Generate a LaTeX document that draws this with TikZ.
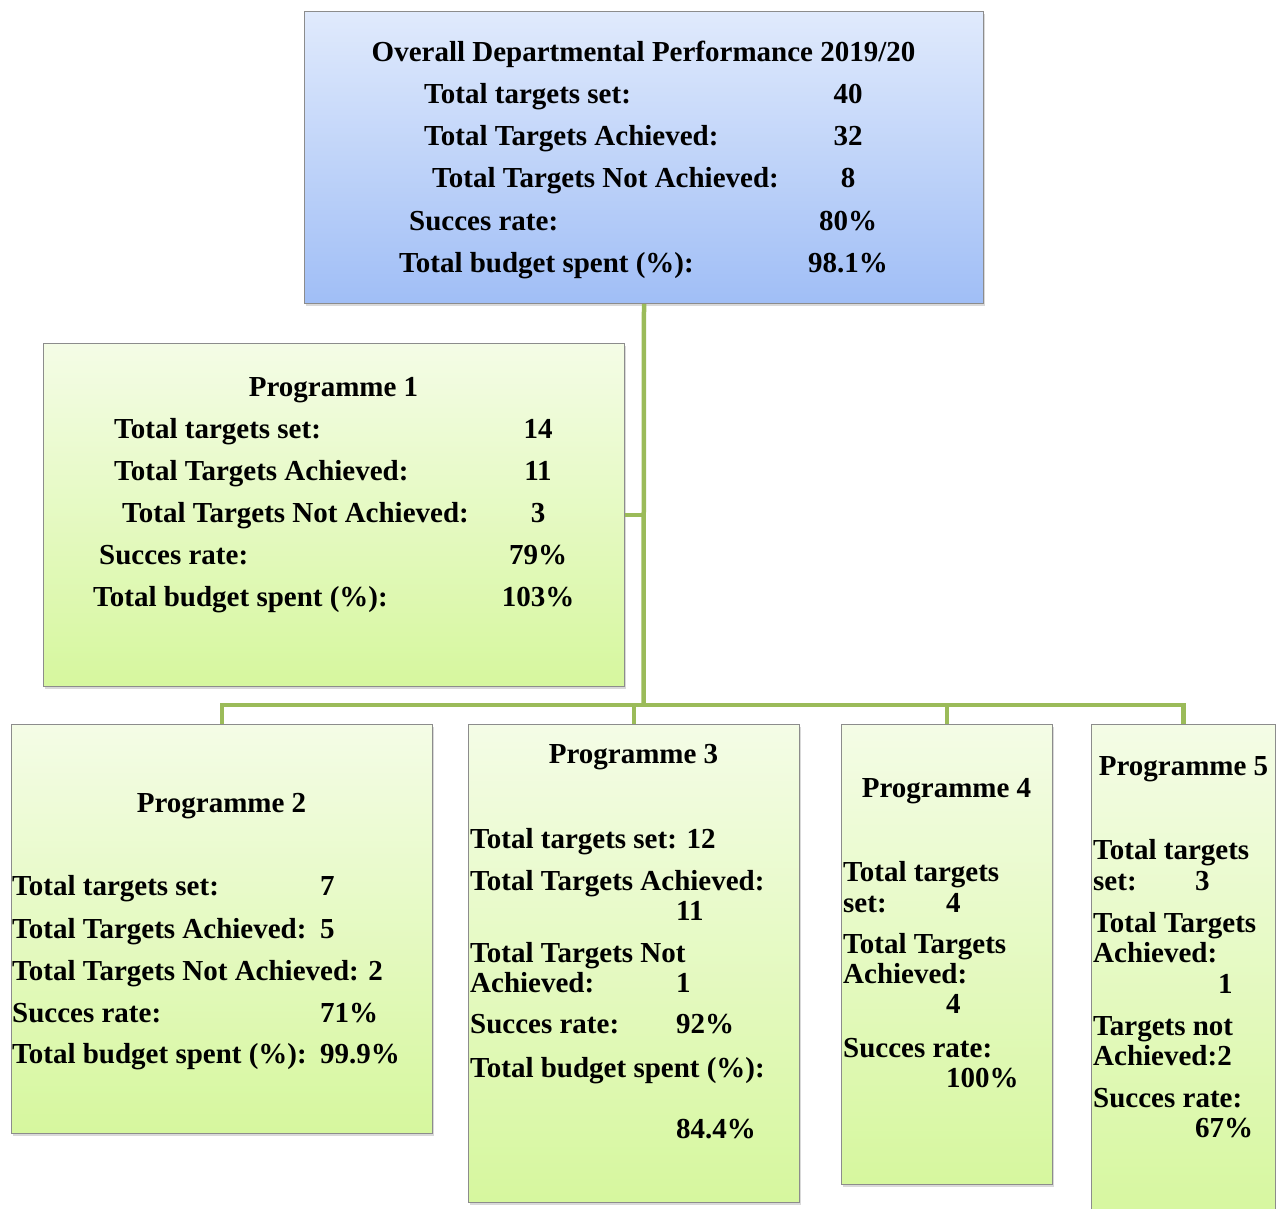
\documentclass[tikz,border=0pt]{standalone}
\usepackage{fontspec}
\setmainfont{Liberation Serif}
\usepackage{xcolor}
\usepackage{tikz}
\usetikzlibrary{positioning, shadows}

\definecolor{linkgreen}{RGB}{155,187,89}
\definecolor{boxgray}{RGB}{140,140,140}
\definecolor{bluetop}{RGB}{224,234,252}
\definecolor{bluebot}{RGB}{160,190,246}
\definecolor{greentop}{RGB}{244,252,230}
\definecolor{greenbot}{RGB}{214,247,158}

\begin{document}
\begin{tikzpicture}[
    x=1pt, y=-1pt,
    panel/.style={draw=boxgray, line width=1pt, anchor=north west, inner sep=0pt,
        drop shadow={shadow xshift=1.5pt, shadow yshift=-2.5pt, opacity=0.3}},
    bluepanel/.style={panel, top color=bluetop, bottom color=bluebot},
    greenpanel/.style={panel, top color=greentop, bottom color=greenbot},
    txt/.style={anchor=base west, inner sep=0pt, font=\bfseries\fontsize{29}{30}\selectfont},
    val/.style={txt, anchor=base},
    link/.style={draw=linkgreen, line width=4.5pt}
]
    \useasboundingbox (0,0) rectangle (1276,1209);

    % Boxes
    \node[bluepanel, minimum width=679pt, minimum height=292pt] (overall) at (304,11) {};
    \node[greenpanel, minimum width=581pt, minimum height=343pt] (prog1) at (43,343) {};
    \node[greenpanel, minimum width=421pt, minimum height=409pt] (prog2) at (11,724) {};
    \node[greenpanel, minimum width=331pt, minimum height=478pt] (prog3) at (468,724) {};
    \node[greenpanel, minimum width=211pt, minimum height=460pt] (prog4) at (841,724) {};
    \node[greenpanel, minimum width=184pt, minimum height=500pt] (prog5) at (1091,724) {};

    % Connectors
    \coordinate (bus) at (643.5,705);
    \draw[link] (overall.south) -- (bus);
    \draw[link] (prog1.east) -- (prog1.east -| bus);
    \draw[link] (prog2.north) |- (bus) -| (prog5.north);
    \draw[link] (prog3.north) -- (prog3.north |- bus);
    \draw[link] (prog4.north) -- (prog4.north |- bus);

    % Overall
    \node[val] (overall-title) at (643.5,62) {Overall Departmental Performance 2019/20};
    \foreach \lab/\val/\lx/\ly [count=\i] in {
        Total targets set:/40/424/104,
        Total Targets Achieved:/32/424/146,
        Total Targets Not Achieved:/8/432/188,
        Succes rate:/80\%/409/230,
        Total budget spent (\%):/98.1\%/399/272}
    {
        \node[txt] (overall-lab\i) at (\lx,\ly) {\lab};
        \node[val] (overall-val\i) at (848,\ly) {\val};
    }

    % Programme 1
    \node[val] (prog1-title) at (333.5,396) {Programme 1};
    \foreach \lab/\val/\lx/\ly [count=\i] in {
        Total targets set:/14/114/438,
        Total Targets Achieved:/11/114/480,
        Total Targets Not Achieved:/3/122/522,
        Succes rate:/79\%/99/564,
        Total budget spent (\%):/103\%/93/606}
    {
        \node[txt] (prog1-lab\i) at (\lx,\ly) {\lab};
        \node[val] (prog1-val\i) at (538,\ly) {\val};
    }

    % Programme 2
    \node[val] (prog2-title) at (221.5,812) {Programme 2};
    \foreach \lab/\val/\ly [count=\i] in {
        Total targets set:/7/895,
        Total Targets Achieved:/5/938,
        Total Targets Not Achieved: 2//980,
        Succes rate:/71\%/1022,
        Total budget spent (\%):/99.9\%/1063}
    {
        \node[txt] (prog2-lab\i) at (12,\ly) {\lab};
        \node[txt] (prog2-val\i) at (320,\ly) {\val};
    }

    % Programme 3
    \node[val] (prog3-title) at (633.5,763) {Programme 3};
    \foreach \lab/\ly [count=\i] in {
        Total targets set: 12/848,
        Total Targets Achieved:/890,
        Total Targets Not/962,
        Achieved:/992,
        Succes rate:/1033,
        Total budget spent (\%):/1077}
        \node[txt] (prog3-lab\i) at (470,\ly) {\lab};
    \foreach \val/\ly [count=\i] in {11/920, 1/992, 92\%/1033, 84.4\%/1138}
        \node[txt] (prog3-val\i) at (676,\ly) {\val};

    % Programme 4
    \node[val] (prog4-title) at (946.5,797) {Programme 4};
    \foreach \lab/\ly [count=\i] in {
        Total targets/881,
        set:/912,
        Total Targets/953,
        Achieved:/983,
        Succes rate:/1057}
        \node[txt] (prog4-lab\i) at (843,\ly) {\lab};
    \foreach \val/\ly [count=\i] in {4/912, 4/1013, 100\%/1087}
        \node[txt] (prog4-val\i) at (946,\ly) {\val};

    % Programme 5
    \node[val] (prog5-title) at (1183.5,775) {Programme 5};
    \foreach \lab/\ly [count=\i] in {
        Total targets/859,
        set:/890,
        Total Targets/932,
        Achieved:/962,
        Targets not/1035,
        Achieved:2/1065,
        Succes rate:/1107}
        \node[txt] (prog5-lab\i) at (1093,\ly) {\lab};
    \foreach \val/\vx/\ly [count=\i] in {3/1195/890, 1/1218/993, 67\%/1195/1137}
        \node[txt] (prog5-val\i) at (\vx,\ly) {\val};

\end{tikzpicture}
\end{document}
